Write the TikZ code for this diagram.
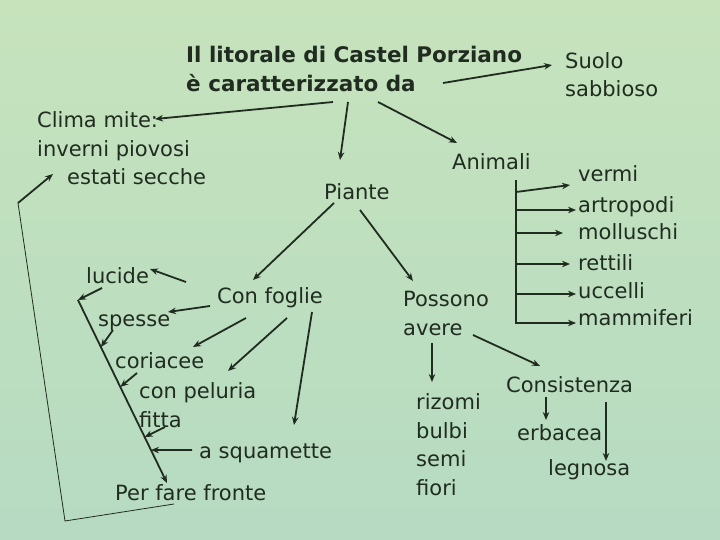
\documentclass[tikz,border=0pt]{standalone}
\usepackage{fontspec}
\setmainfont{DejaVu Sans}
\usetikzlibrary{arrows.meta}
\definecolor{ink}{RGB}{32,44,32}
\definecolor{bgtop}{RGB}{198,227,188}
\definecolor{bgbot}{RGB}{182,219,194}
\begin{document}
\begin{tikzpicture}[x=1pt,y=-1pt,
    txt/.style={anchor=base west,inner sep=0pt,text=ink,align=left,font=\fontsize{21}{28.5}\selectfont},
    arr/.style={draw=ink,line width=1.8pt,-{Stealth[length=8pt,width=6.5pt]}}]
    \shade[top color=bgtop,bottom color=bgbot] (0,0) rectangle (720,540);
    \useasboundingbox (0,0) rectangle (720,540);
    % titolo e rami principali
    \node[txt,font=\bfseries\fontsize{21.5}{29}\selectfont] (titolo) at (186,92) {Il litorale di Castel Porziano\\è caratterizzato da};
    \node[txt] (clima) at (37,185) {Clima mite:\\inverni piovosi\\\hspace*{30pt}estati secche};
    \node[txt] (suolo) at (565,97) {Suolo\\sabbioso};
    \node[txt] (piante) at (324,200) {Piante};
    \node[txt] (animali) at (452,170) {Animali};
    \draw[arr] ([shift={(147,10)}]titolo.base west) -- ([shift={(118,-66)}]clima.base west);
    \draw[arr] ([shift={(162,10)}]titolo.base west) -- ([shift={(16,-40)}]piante.base west);
    \draw[arr] ([shift={(257,-9)}]titolo.base west) -- ([shift={(-13,-32)}]suolo.base west);
    \draw[arr] ([shift={(192,10)}]titolo.base west) -- ([shift={(5,-27)}]animali.base west);
    % animali
    \node[txt] (vermi) at (578,182) {vermi};
    \node[txt] (artropodi) at (578,212) {artropodi};
    \node[txt] (molluschi) at (578,240) {molluschi};
    \node[txt] (rettili) at (578,270) {rettili};
    \node[txt] (uccelli) at (578,298) {uccelli};
    \node[txt] (mammiferi) at (578,325) {mammiferi};
    \draw[draw=ink,line width=1.8pt] ([shift={(64,10)}]animali.base west) -- ([shift={(64,154)}]animali.base west);
    \draw[arr] ([shift={(64,22)}]animali.base west) -- ([shift={(-8,3)}]vermi.base west);
    \draw[arr] ([shift={(64,40)}]animali.base west) -- ([shift={(-2,-2)}]artropodi.base west);
    \draw[arr] ([shift={(64,63)}]animali.base west) -- ([shift={(-15,-7)}]molluschi.base west);
    \draw[arr] ([shift={(64,94)}]animali.base west) -- ([shift={(-8,-6)}]rettili.base west);
    \draw[arr] ([shift={(64,124)}]animali.base west) -- ([shift={(-2,-4)}]uccelli.base west);
    \draw[arr] ([shift={(64,153)}]animali.base west) -- ([shift={(-2,-2)}]mammiferi.base west);
    % piante
    \node[txt] (possono) at (403,335) {Possono\\avere};
    \node[txt] (organi) at (416,495) {rizomi\\bulbi\\semi\\fiori};
    \node[txt] (consistenza) at (506,392) {Consistenza};
    \node[txt] (erbacea) at (517,440) {erbacea};
    \node[txt] (legnosa) at (548,475) {legnosa};
    \draw[arr] ([shift={(36,10)}]piante.base west) -- ([shift={(10,-54)}]possono.base west);
    \draw[arr] ([shift={(29,8)}]possono.base west) -- ([shift={(16,-113)}]organi.base west);
    \draw[arr] ([shift={(70,0)}]possono.base west) -- ([shift={(34,-26)}]consistenza.base west);
    \draw[arr] ([shift={(40,5)}]consistenza.base west) -- ([shift={(29,-20)}]erbacea.base west);
    \draw[arr] ([shift={(100,10)}]consistenza.base west) -- ([shift={(58,-14)}]legnosa.base west);
    % foglie
    \node[txt] (foglie) at (217,303) {Con foglie};
    \node[txt] (lucide) at (86,283) {lucide};
    \node[txt] (spesse) at (98,326) {spesse};
    \node[txt] (coriacee) at (115,368) {coriacee};
    \node[txt] (peluria) at (139,427) {con peluria\\fitta};
    \node[txt] (squamette) at (199,458) {a squamette};
    \node[txt] (fronte) at (115,500) {Per fare fronte};
    \draw[arr] ([shift={(10,3)}]piante.base west) -- ([shift={(36,-23)}]foglie.base west);
    \draw[arr] ([shift={(-31,-21)}]foglie.base west) -- ([shift={(64,-14)}]lucide.base west);
    \draw[arr] ([shift={(-7,3)}]foglie.base west) -- ([shift={(70,-14)}]spesse.base west);
    \draw[arr] ([shift={(29,15)}]foglie.base west) -- ([shift={(78,-21)}]coriacee.base west);
    \draw[arr] ([shift={(70,15)}]foglie.base west) -- ([shift={(89,-56)}]peluria.base west);
    \draw[arr] ([shift={(95,9)}]foglie.base west) -- ([shift={(95,-33)}]squamette.base west);
    % per fare fronte
    \coordinate (ftop) at (78,300);
    \draw[arr] (ftop) -- coordinate[pos=.257] (f1) coordinate[pos=.475] (f2)
        coordinate[pos=.749] (f3) coordinate[pos=.82] (f4) ([shift={(52,-17)}]fronte.base west);
    \draw[arr] ([shift={(16,5)}]lucide.base west) -- (ftop);
    \draw[arr] ([shift={(15,4)}]spesse.base west) -- (f1);
    \draw[arr] ([shift={(22,5)}]coriacee.base west) -- (f2);
    \draw[arr] ([shift={(26,0)}]peluria.base west) -- (f3);
    \draw[arr] ([shift={(-7,-8)}]squamette.base west) -- (f4);
    \coordinate (cbot) at (65,521);
    \coordinate (ctop) at (18,203);
    \draw[draw=ink,line width=0.8pt] ([shift={(59,4)}]fronte.base west) -- (cbot) -- (ctop);
    \draw[arr] (ctop) -- ([shift={(16,-11)}]clima.base west);
\end{tikzpicture}
\end{document}
